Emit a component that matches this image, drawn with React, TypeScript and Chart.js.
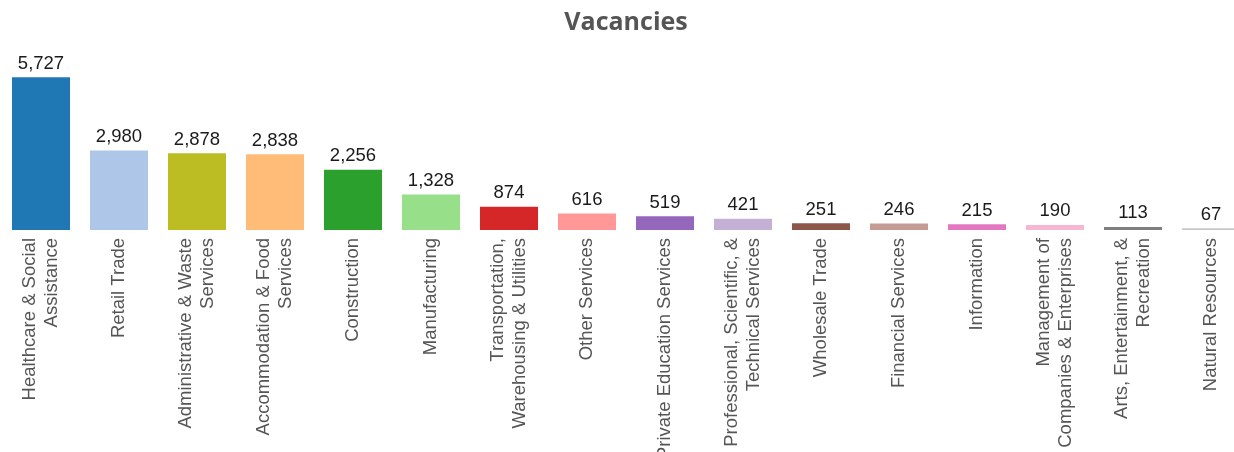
import React, { useEffect, useRef } from "react";
import { Chart, registerables } from "chart.js";

Chart.register(...registerables);

const titleText = "Vacancies";

const categories: string[][] = [
  ["Healthcare & Social", "Assistance"],
  ["Retail Trade"],
  ["Administrative & Waste", "Services"],
  ["Accommodation & Food", "Services"],
  ["Construction"],
  ["Manufacturing"],
  ["Transportation,", "Warehousing & Utilities"],
  ["Other Services"],
  ["Private Education Services"],
  ["Professional, Scientific, &", "Technical Services"],
  ["Wholesale Trade"],
  ["Financial Services"],
  ["Information"],
  ["Management of", "Companies & Enterprises"],
  ["Arts, Entertainment, &", "Recreation"],
  ["Natural Resources"],
];

const vacancies: number[] = [
  5727, 2980, 2878, 2838, 2256, 1328, 874, 616, 519, 421, 251, 246, 215, 190, 113, 67,
];

const barColors: string[] = [
  "#1f77b4", "#aec7e8", "#bcbd22", "#ffbb78", "#2ca02c", "#98df8a", "#d62728", "#ff9896",
  "#9467bd", "#c5b0d5", "#8c564b", "#c49c94", "#e377c2", "#f7b6d2", "#7f7f7f", "#c7c7c7",
];

const yMax = 6000;

const labelFont = '18.5px "Liberation Sans", Arial, sans-serif';

const valueLabels = {
  id: "valueLabels",
  afterDatasetsDraw(chart: any) {
    const ctx = chart.ctx;
    const meta = chart.getDatasetMeta(0);
    ctx.save();
    ctx.font = labelFont;
    ctx.fillStyle = "#1a1a1a";
    ctx.textAlign = "center";
    ctx.textBaseline = "alphabetic";
    meta.data.forEach((bar: any, i: number) => {
      const v = chart.data.datasets[0].data[i] as number;
      ctx.fillText(v.toLocaleString("en-US"), bar.x, bar.y - 8.5);
    });
    ctx.restore();
  },
};

const categoryLabels = {
  id: "categoryLabels",
  afterDraw(chart: any) {
    const ctx = chart.ctx;
    const xScale = chart.scales.x;
    const top = chart.chartArea.bottom + 8;
    const lineH = 22;
    ctx.save();
    ctx.font = labelFont;
    ctx.fillStyle = "#555555";
    ctx.textAlign = "right";
    ctx.textBaseline = "middle";
    categories.forEach((lines, i) => {
      const x = xScale.getPixelForValue(i);
      lines.forEach((line, j) => {
        const off = (j - (lines.length - 1) / 2) * lineH;
        ctx.save();
        ctx.translate(x + off, top);
        ctx.rotate(-Math.PI / 2);
        ctx.fillText(line, 0, 0);
        ctx.restore();
      });
    });
    ctx.restore();
  },
};

export default function App() {
  const ref = useRef<HTMLCanvasElement | null>(null);
  useEffect(() => {
    if (!ref.current) return;
    const chart = new Chart(ref.current, {
      type: "bar",
      data: {
        labels: categories.map((c) => c.join(" ")),
        datasets: [
          {
            data: vacancies,
            backgroundColor: barColors,
            borderWidth: 0,
            barPercentage: 0.744,
            categoryPercentage: 1,
          },
        ],
      },
      options: {
        responsive: false,
        animation: false,
        layout: { padding: { left: 2, right: 2, top: 0, bottom: 222 } },
        plugins: {
          legend: { display: false },
          tooltip: { enabled: false },
          title: {
            display: true,
            text: titleText,
            color: "#555555",
            font: { family: '"Open Sans", sans-serif', size: 25, weight: "bold", lineHeight: 1.2 },
            padding: { top: 8, bottom: 32 },
          },
        },
        scales: {
          x: { display: false, offset: true, grid: { display: false } },
          y: { display: false, min: 0, max: yMax, grid: { display: false } },
        },
      },
      plugins: [valueLabels, categoryLabels],
    });
    return () => chart.destroy();
  }, []);
  return (
    <div style={{ position: "fixed", left: 0, top: 0, width: 1234, height: 452, overflow: "hidden", background: "#fff" }}>
      <canvas ref={ref} width={1252} height={452} style={{ display: "block" }} />
    </div>
  );
}
